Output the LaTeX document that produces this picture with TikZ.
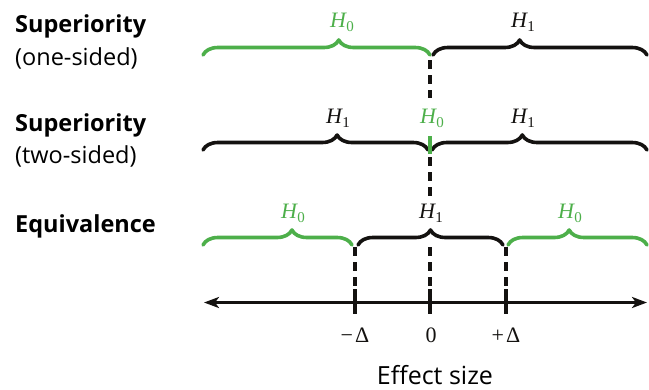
\documentclass[tikz,border=0pt]{standalone}
\usepackage{fontspec}
\setsansfont{Open Sans}
\newfontfamily\tms{Liberation Serif}
\usetikzlibrary{decorations.pathreplacing,arrows.meta}
\definecolor{hgreen}{RGB}{77,175,74}
\definecolor{hblack}{RGB}{20,18,16}
\newcommand{\hyp}[1]{{\tms\itshape H}\kern0.5pt\raisebox{-4.5pt}{\tms\fontsize{15}{15}\selectfont #1}}
\begin{document}
\begin{tikzpicture}[x=1pt,y=-1pt,
  brc/.style={decorate, decoration={brace, amplitude=15pt, aspect=#1},
    line width=3.6pt, line cap=round, line join=round},
  brc/.default=0.5,
  dsh/.style={hblack, line width=3.6pt, dash pattern=on 9pt off 6pt},
  tck/.style={hblack, line width=4pt},
  hlab/.style={font=\tms\fontsize{22}{26}\selectfont, anchor=base, inner sep=0pt},
  slab/.style={font=\sffamily\fontsize{23.5}{28}\selectfont, anchor=base west, inner sep=0pt, text=black},
  sbold/.style={slab, font=\sffamily\bfseries\fontsize{23.5}{28}\selectfont},
]
\useasboundingbox (0,0) rectangle (649,389);

% left labels
\node[sbold] (t1) at (15,32) {Superiority};
\node[slab] (t1b) at (15,65) {(one-sided)};
\node[sbold] (t2) at (15,131) {Superiority};
\node[slab] (t2b) at (15,163) {(two-sided)};
\node[sbold] (t3) at (15,232) {Equivalence};

% row 1
\coordinate (r1a) at (203,55);
\coordinate (r1b) at (430,55);
\coordinate (r1c) at (433,55);
\coordinate (r1d) at (647,55);
\draw[brc=0.598, hgreen] (r1a) -- (r1b);
\draw[brc=0.405, hblack] (r1c) -- (r1d);
\node[hlab, text=hgreen] (l1a) at (342,27) {\hyp{0}};
\node[hlab, text=hblack] (l1b) at (523,27) {\hyp{1}};

% row 2
\coordinate (r2a) at (203,150);
\coordinate (r2b) at (428,150);
\coordinate (r2c) at (432,150);
\coordinate (r2d) at (647,150);
\draw[brc=0.596, hblack] (r2a) -- (r2b);
\draw[brc=0.42, hblack] (r2c) -- (r2d);
\coordinate (m2a) at (430,136);
\coordinate (m2b) at (430,154);
\draw[hgreen, line width=3.6pt] (m2a) -- (m2b);
\node[hlab, text=hblack] (l2a) at (338,123) {\hyp{1}};
\node[hlab, text=hgreen] (l2b) at (432,123) {\hyp{0}};
\node[hlab, text=hblack] (l2c) at (523,123) {\hyp{1}};

% row 3
\coordinate (r3a) at (203,245);
\coordinate (r3b) at (352,245);
\coordinate (r3c) at (358,245);
\coordinate (r3d) at (503,245);
\coordinate (r3e) at (508,245);
\coordinate (r3f) at (647,245);
\draw[brc=0.597, hgreen] (r3a) -- (r3b);
\draw[brc=0.5, hblack] (r3c) -- (r3d);
\draw[brc=0.44, hgreen] (r3e) -- (r3f);
\node[hlab, text=hgreen] (l3a) at (293,218) {\hyp{0}};
\node[hlab, text=hblack] (l3b) at (431,218) {\hyp{1}};
\node[hlab, text=hgreen] (l3c) at (570,218) {\hyp{0}};

% axis
\coordinate (axl) at (204,302.5);
\coordinate (axr) at (647,302.5);
\draw[hblack, line width=3.4pt, {Stealth[length=15pt,width=11pt,inset=4pt]}-{Stealth[length=15pt,width=11pt,inset=4pt]}] (axl) -- (axr);

% ticks
\coordinate (tma) at (355,289); \coordinate (tmb) at (355,314);
\coordinate (tza) at (430,289); \coordinate (tzb) at (430,314);
\coordinate (tpa) at (506,289); \coordinate (tpb) at (506,314);
\draw[tck] (tma) -- (tmb);
\draw[tck] (tza) -- (tzb);
\draw[tck] (tpa) -- (tpb);

% dashed guides
\coordinate (d1a) at (430,60); \coordinate (d1b) at (430,98);
\coordinate (d2a) at (430,157); \coordinate (d2b) at (430,198);
\coordinate (d3a) at (430,247);
\coordinate (d4a) at (355,247);
\coordinate (d5a) at (506,247);
\draw[dsh] (d1a) -- (d1b);
\draw[dsh] (d2a) -- (d2b);
\draw[dsh] (d3a) -- (tza);
\draw[dsh] (d4a) -- (tma);
\draw[dsh] (d5a) -- (tpa);

% tick labels
\node[hlab, text=hblack] (xm) at (355,342) {−\kern2pt Δ};
\node[hlab, text=hblack] (xz) at (431,342) {0};
\node[hlab, text=hblack] (xp) at (506,342) {+\kern2pt Δ};
\node[slab, anchor=base, font=\sffamily\fontsize{25}{30}\selectfont] (xl) at (435,384) {Effect size};
\end{tikzpicture}
\end{document}
